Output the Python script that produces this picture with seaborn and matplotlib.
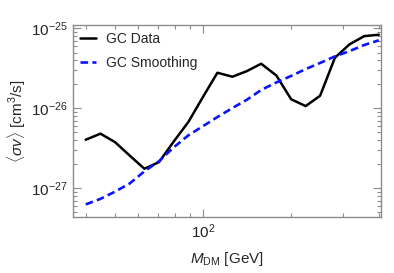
import matplotlib
matplotlib.use('Agg')
import matplotlib.pyplot as plt
import matplotlib.ticker as mticker
import pandas as pd
import seaborn as sns

# dark matter mass [GeV]
mass = [39.8, 44.7, 50.1, 56.2, 63.1, 70.8, 79.4, 89.1, 100, 112, 126,
        141, 158, 178, 200, 224, 251, 282, 316, 355, 398]
# <sigma v> [cm^3/s]
gc_data = [4.06e-27, 4.83e-27, 3.79e-27, 2.58e-27, 1.76e-27, 2.13e-27,
           3.84e-27, 6.74e-27, 1.39e-26, 2.79e-26, 2.49e-26, 2.92e-26,
           3.62e-26, 2.58e-26, 1.30e-26, 1.07e-26, 1.44e-26, 4.30e-26,
           6.31e-26, 8.01e-26, 8.34e-26]
gc_smooth = [6.31e-28, 7.4e-28, 9.1e-28, 1.15e-27, 1.63e-27, 2.19e-27,
             3.25e-27, 4.6e-27, 6.0e-27, 7.8e-27, 1.01e-26, 1.28e-26,
             1.70e-26, 2.11e-26, 2.55e-26, 3.1e-26, 3.7e-26, 4.47e-26,
             5.2e-26, 6.2e-26, 7.1e-26]
x_major = [100]
y_major = [1e-27, 1e-26, 1e-25]

df = pd.DataFrame({'mass': mass, 'GC Data': gc_data, 'GC Smoothing': gc_smooth})

sns.set_style('ticks')
plt.rcParams['font.family'] = ['Liberation Sans', 'DejaVu Sans']
plt.rcParams['mathtext.fontset'] = 'custom'
plt.rcParams['mathtext.rm'] = 'Liberation Sans'
plt.rcParams['mathtext.it'] = 'Liberation Sans:italic'
plt.rcParams['mathtext.bf'] = 'Liberation Sans:bold'

fig = plt.figure(figsize=(3.94, 2.73), dpi=100)
ax = fig.add_axes([0.186, 0.204, 0.781, 0.704])

sns.lineplot(data=df, x='mass', y='GC Data', color='black', lw=1.8,
             label='GC Data', ax=ax)
sns.lineplot(data=df, x='mass', y='GC Smoothing', color='#0a14ff', lw=1.9,
             dashes=False, label='GC Smoothing', ax=ax)
ax.lines[1].set_dashes([2.9, 1.6])

ax.set_xscale('log')
ax.set_yscale('log')
ax.set_xlim(36.1, 405)
ax.set_ylim(4.35e-28, 1.1e-25)

ax.set_xticks(x_major)
ax.set_yticks(y_major)
ax.xaxis.set_major_formatter(mticker.LogFormatterSciNotation())
ax.yaxis.set_major_formatter(mticker.LogFormatterSciNotation())
ax.xaxis.set_minor_locator(mticker.LogLocator(base=10, subs=range(2, 10)))
ax.yaxis.set_minor_locator(mticker.LogLocator(base=10, subs=range(2, 10)))
ax.xaxis.set_minor_formatter(mticker.NullFormatter())
ax.yaxis.set_minor_formatter(mticker.NullFormatter())

for s in ax.spines.values():
    s.set_color('#8c8c8c')
    s.set_linewidth(1.0)
ax.tick_params(which='both', direction='in', top=True, right=True,
               color='#8c8c8c', labelsize=11, width=0.8)
ax.tick_params(which='major', length=5.5, pad=4)
ax.tick_params(which='minor', length=3)

ax.set_xlabel(r'$M_{\rm DM}$ [GeV]', fontsize=11, labelpad=6)
ax.set_ylabel(r'$\langle\sigma v\rangle$ [cm$^3$/s]', fontsize=11, labelpad=2)

leg = ax.legend(loc='upper left', frameon=False, fontsize=10,
                handlelength=1.15, handletextpad=0.7, labelspacing=0.7,
                borderaxespad=0.1)

fig.savefig('out.png', dpi=100)
